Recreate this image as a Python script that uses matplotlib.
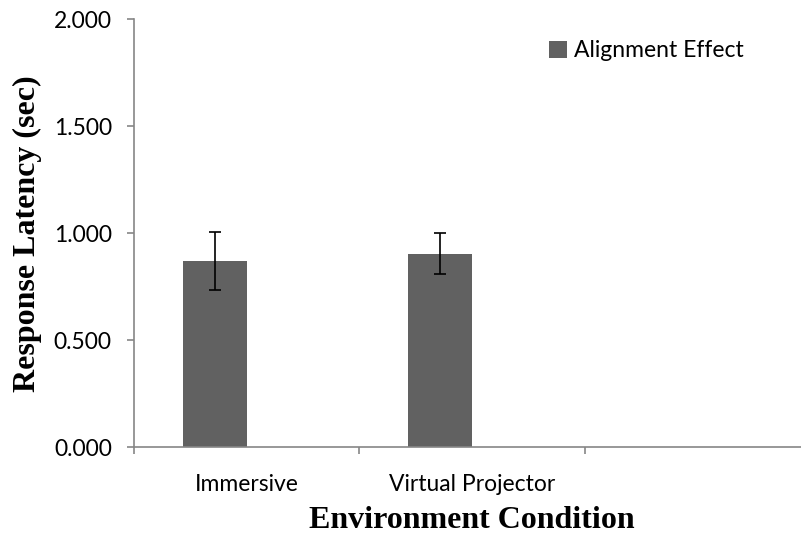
import matplotlib.pyplot as plt
import numpy as np

# data
categories = ["Immersive", "Virtual Projector", ""]
alignment_effect = [0.871, 0.905]
alignment_err = [0.135, 0.095]
y_ticks = [0.0, 0.5, 1.0, 1.5, 2.0]

bar_color = "#616161"
axis_color = "#868686"
tick_font = {"family": "Lato", "size": 16.5}

fig = plt.figure(figsize=(8.01, 5.37), dpi=100)
# axes runs past the right edge of the figure like the original
ax = fig.add_axes([134 / 801, 89.7 / 537, 676 / 801, 428 / 537])

slot = np.arange(len(categories))
width = 0.284
ax.bar(slot[:len(alignment_effect)] - width / 2, alignment_effect, width,
       color=bar_color, label="Alignment Effect", zorder=2)
ax.errorbar(slot[:len(alignment_effect)] - width / 2, alignment_effect,
            yerr=alignment_err, fmt="none", ecolor="black", elinewidth=1.2,
            capsize=4.3, capthick=1.2, zorder=3)

ax.set_xlim(-0.5, len(categories) - 0.5)
ax.set_ylim(0, 2.0)
ax.set_yticks(y_ticks)
ax.set_yticklabels([f"{v:.3f}" for v in y_ticks], **tick_font)

ax.set_xticks(slot)
ax.set_xticklabels(categories, **tick_font)
ax.set_xticks(np.arange(len(categories) + 1) - 0.5, minor=True)
ax.tick_params(axis="x", which="major", length=0, pad=19)
ax.tick_params(axis="x", which="minor", length=5, color=axis_color, width=1.2)
ax.tick_params(axis="y", length=5, color=axis_color, width=1.2, pad=11)

for side in ["top", "right"]:
    ax.spines[side].set_visible(False)
for side in ["left", "bottom"]:
    ax.spines[side].set_color(axis_color)
    ax.spines[side].set_linewidth(1.2)

ax.set_ylabel("Response Latency (sec)", family="Liberation Serif",
              fontweight="bold", fontsize=23, va="center")
ax.yaxis.set_label_coords((27 - 134) / 676, 0.5)
ax.set_xlabel("Environment Condition", family="Liberation Serif",
              fontweight="bold", fontsize=23, va="center")
ax.xaxis.set_label_coords((472 - 134) / 676, -(520 - 447.3) / 428)

ax.legend(loc="center left", bbox_to_anchor=((549 - 134) / 676, (447.3 - 51) / 428),
          frameon=False, prop=tick_font, borderpad=0, borderaxespad=0,
          handlelength=0.8, handleheight=0.8, handletextpad=0.3)

fig.savefig("out.png", dpi=100)
